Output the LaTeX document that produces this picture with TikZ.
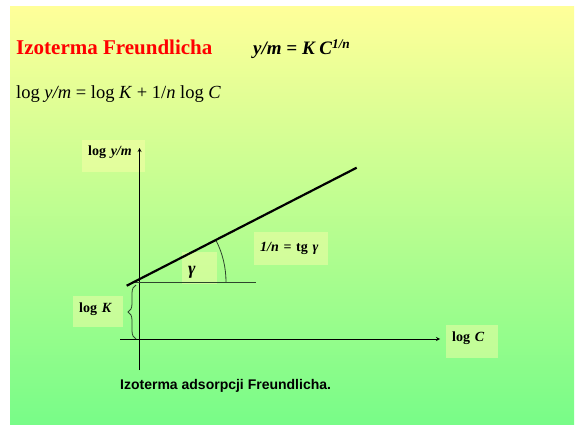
\documentclass[tikz,border=0pt]{standalone}
\usepackage{fontspec}
\setmainfont{Liberation Serif}
\setsansfont{Liberation Sans}
\usepackage{tikz}
\usetikzlibrary{arrows,decorations.pathreplacing}

\definecolor{slidetop}{RGB}{255,255,153}
\definecolor{slidebot}{RGB}{120,252,136}
\definecolor{boxfill}{RGB}{255,255,170}
\definecolor{darkline}{RGB}{45,70,45}

\begin{document}
\begin{tikzpicture}[x=1pt, y=-1pt,
  txt/.style={anchor=base west, inner sep=0pt},
  tbox/.style={fill=boxfill, fill opacity=0.45, text opacity=1, inner xsep=6pt, inner ysep=0pt,
    align=left, anchor=north west, font=\fontsize{14}{16}\selectfont\bfseries},
  axis/.style={line width=0.8pt, -stealth},
  thinline/.style={line width=0.8pt, darkline}]
\useasboundingbox (0,0) rectangle (578,425);
\fill[white] (0,0) rectangle (578,425);
\shade[top color=slidetop, bottom color=slidebot] (10,7) rectangle (574,424);

% Heading
\node[txt, text=red, font=\fontsize{21}{24}\selectfont\bfseries] (title) at (16,55) {Izoterma Freundlicha};
\node[txt, font=\fontsize{19}{22}\selectfont\bfseries\itshape] (eq) at (253,55) {y/m = K C\textsuperscript{1/n}};
\node[txt, font=\fontsize{18.5}{22}\selectfont] (eqlog) at (16,98.5) {log \textit{y/m} = log \textit{K} + 1/\textit{n} log \textit{C}};

% Labels
\node[tbox, text width=51pt, text height=15pt, text depth=17pt] (lym) at (82,140) {log \textit{y/m}};
\node[tbox, text width=23pt, text height=22pt, text depth=10pt,
  font=\fontsize{18}{20}\selectfont\bfseries\itshape] (lgam) at (182,252) {γ};
\node[tbox, text width=62pt, text height=19.3pt, text depth=13.7pt] (ltg) at (254,232) {\textit{1/n} = tg \textit{γ}};
\node[tbox, text width=38pt, text height=16.6pt, text depth=14.4pt] (lk) at (73,296) {log \textit{K}};
\node[tbox, text width=40pt, text height=16.6pt, text depth=16.4pt] (lc) at (446,325) {log \textit{C}};

% Axes
\coordinate (y0) at (139.5,370);
\coordinate (y1) at (139.5,148);
\coordinate (x0) at (120,339);
\coordinate (x1) at (440,339);
\draw[axis] (y0) -- (y1);
\draw[axis] (x0) -- (x1);

% Curve
\coordinate (c0) at (126.7,285.7);
\coordinate (c1) at (356.7,167.7);
\coordinate (g0) at (134,282);
\coordinate (g1) at (255.7,282);
\draw[thinline] (g0) -- (g1);
\draw[thinline] (g0) ++(92,0) arc[start angle=0, end angle=-27.2, radius=92];
\draw[line width=2.2pt] (c0) -- (c1);

% log K
\coordinate (k0) at (136,339);
\coordinate (k1) at (136,285);
\draw[thinline, decorate, decoration={brace, amplitude=8pt}] (k0) -- (k1);

\node[txt, font=\sffamily\bfseries\fontsize{14}{16}\selectfont] (cap) at (120,389) {Izoterma adsorpcji Freundlicha.};

\end{tikzpicture}
\end{document}
